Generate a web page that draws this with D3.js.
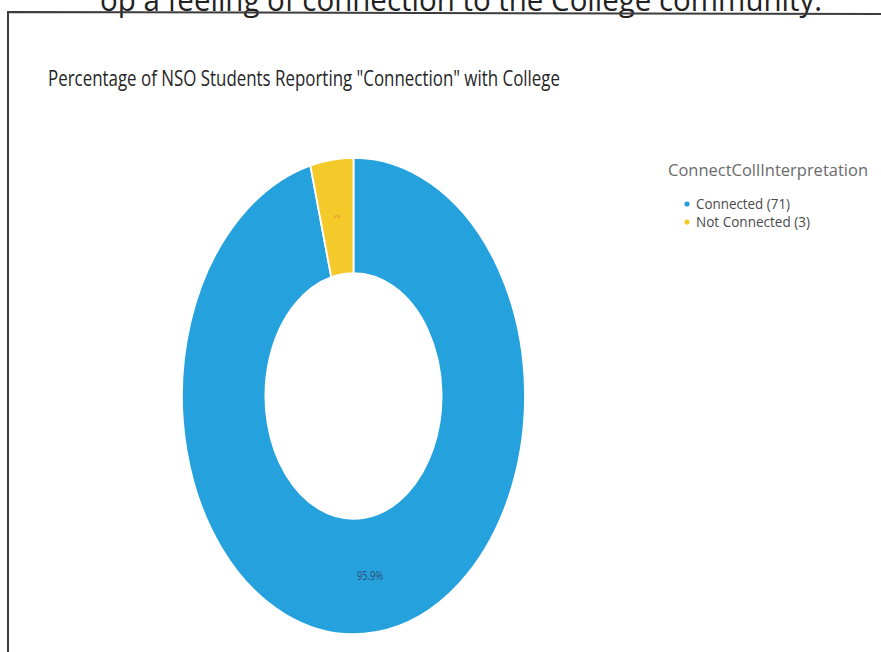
<!DOCTYPE html>
<html>
<head>
<meta charset="utf-8">
<script src="https://cdn.jsdelivr.net/npm/d3@7"></script>
<style>
  html, body { margin: 0; padding: 0; background: #fff; }
  svg { display: block; }
</style>
</head>
<body>
<svg id="chart" width="881" height="652"></svg>
<script>
// Survey responses: connection with the College
const categories = ["Connected", "Not Connected"];
const counts = [71, 3];
const colors = ["#25a2dd", "#f4c92a"];
const legendTitle = "ConnectCollInterpretation";
const chartTitle = 'Percentage of NSO Students Reporting "Connection" with College';
const headerText = "op a feeling of connection to the College community.";

const svg = d3.select("#chart");
const W = 881, H = 652;

// Page text running above the visual (clipped at the top edge)
svg.append("text")
  .attr("x", 100).attr("y", 11)
  .attr("font-family", "'Open Sans', 'Noto Sans', sans-serif")
  .attr("font-size", 31)
  .attr("fill", "#222")
  .attr("textLength", 722)
  .attr("lengthAdjust", "spacingAndGlyphs")
  .text(headerText);

// Visual frame
svg.append("path")
  .attr("d", d3.line()([[8, H], [8, 12], [W, 14]]))
  .attr("fill", "none")
  .attr("stroke", "#3c3c3c")
  .attr("stroke-width", 2);

// Title
svg.append("text")
  .attr("x", 48).attr("y", 86)
  .attr("font-family", "'Open Sans', 'Noto Sans', sans-serif")
  .attr("font-size", 21)
  .attr("fill", "#252525")
  .attr("textLength", 512)
  .attr("lengthAdjust", "spacingAndGlyphs")
  .text(chartTitle);

// Donut
const data = categories.map((c, i) => ({ cat: c, value: counts[i], color: colors[i] }));
const total = d3.sum(counts);
const pie = d3.pie().value(d => d.value).sort(null);
const outerR = 238.5, innerR = 122.5;
const arc = d3.arc().innerRadius(innerR).outerRadius(outerR);
const xScale = 171.5 / 238.5;

const g = svg.append("g")
  .attr("transform", `translate(353.5,396) scale(${xScale},1)`);

const arcs = pie(data);
g.selectAll("path.slice")
  .data(arcs)
  .join("path")
  .attr("class", "slice")
  .attr("d", arc)
  .attr("fill", d => d.data.color)
  .attr("stroke", "#fff")
  .attr("stroke-width", 2.5);

const fmt = d3.format(".1%");
// Large slice label
g.append("text")
  .datum(arcs[0])
  .attr("transform", d => `translate(${arc.centroid(d)})`)
  .attr("text-anchor", "middle")
  .attr("dy", "0.35em")
  .attr("font-family", "'Open Sans', 'Noto Sans', sans-serif")
  .attr("font-size", 13)
  .attr("fill", "#2f4f7a")
  .text(d => fmt(d.data.value / total));

// Small slice label (very small in this visual)
g.append("text")
  .datum(arcs[1])
  .attr("transform", d => `translate(${arc.centroid(d)})`)
  .attr("text-anchor", "middle")
  .attr("dy", "0.35em")
  .attr("font-family", "'Open Sans', 'Noto Sans', sans-serif")
  .attr("font-size", 3)
  .attr("fill", "#d0403a")
  .text(d => fmt(d.data.value / total));

// Legend
const legend = svg.append("g");
legend.append("text")
  .attr("x", 668).attr("y", 176)
  .attr("font-family", "'Open Sans', 'Noto Sans', sans-serif")
  .attr("font-size", 17)
  .attr("fill", "#6b6b6b")
  .attr("textLength", 200)
  .attr("lengthAdjust", "spacingAndGlyphs")
  .text(legendTitle);

const itemW = [94, 114];
const items = legend.selectAll("g.item")
  .data(data)
  .join("g")
  .attr("class", "item")
  .attr("transform", (d, i) => `translate(687,${204 + i * 18})`);
items.append("circle")
  .attr("r", 2.6)
  .attr("fill", d => d.color);
items.append("text")
  .attr("x", 9).attr("y", 5)
  .attr("font-family", "'Open Sans', 'Noto Sans', sans-serif")
  .attr("font-size", 14)
  .attr("fill", "#4a4a4a")
  .attr("textLength", (d, i) => itemW[i])
  .attr("lengthAdjust", "spacingAndGlyphs")
  .text(d => `${d.cat} (${d.value})`);
</script>
</body>
</html>
